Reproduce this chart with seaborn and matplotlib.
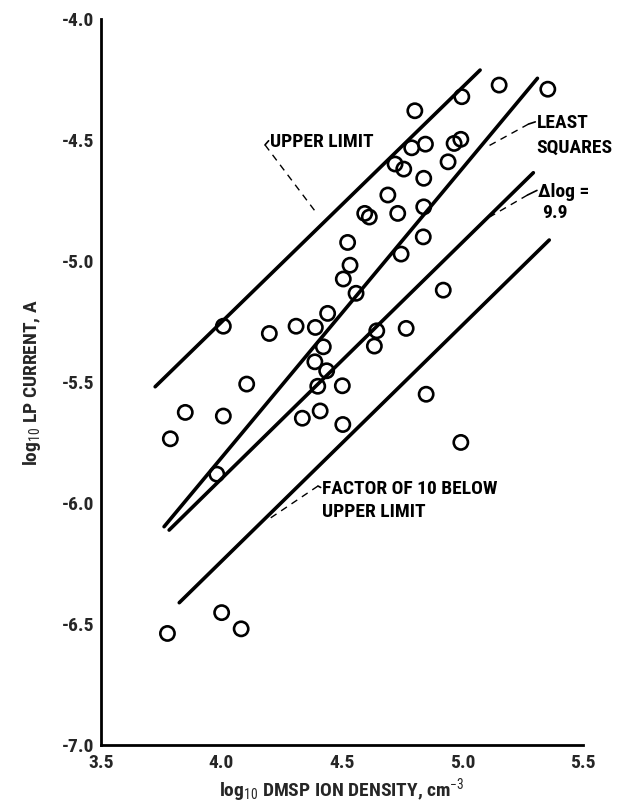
import numpy as np
import pandas as pd
import seaborn as sns
import matplotlib.pyplot as plt
from matplotlib import font_manager

# log10 DMSP ion density / log10 LP current
ion_density = [5.355, 5.153, 4.998, 4.803, 4.790, 4.847, 4.966, 4.994, 4.941, 4.721,
               4.757, 4.840, 4.691, 4.595, 4.614, 4.732, 4.840, 4.524, 4.838, 4.746,
               4.534, 4.506, 4.559, 4.441, 4.008, 4.199, 4.310, 4.390, 4.423, 4.645,
               4.635, 4.767, 4.388, 4.437, 4.105, 4.400, 4.502, 4.921, 3.850, 4.008,
               4.336, 4.410, 4.504, 4.850, 4.994, 3.788, 3.981, 3.776, 4.001, 4.082]
lp_current = [-4.290, -4.273, -4.321, -4.379, -4.532, -4.517, -4.514, -4.497, -4.590, -4.599,
              -4.620, -4.658, -4.727, -4.803, -4.818, -4.803, -4.776, -4.923, -4.900, -4.971,
              -5.017, -5.074, -5.133, -5.216, -5.269, -5.299, -5.269, -5.274, -5.354, -5.288,
              -5.351, -5.278, -5.416, -5.453, -5.508, -5.517, -5.515, -5.120, -5.625, -5.640,
              -5.649, -5.619, -5.675, -5.550, -5.749, -5.734, -5.880, -6.538, -6.452, -6.519]

# end points of the four straight lines
upper_x, upper_y = [3.725, 5.074], [-5.519, -4.211]
lsq_x, lsq_y = [3.762, 5.312], [-6.097, -4.245]
dlog_x, dlog_y = [3.783, 5.295], [-6.111, -4.635]
f10_x, f10_y = [3.825, 5.361], [-6.411, -4.913]

x_ticks = [3.5, 4.0, 4.5, 5.0, 5.5]
x_tick_labels = ["3.5", "4.0", "4.5", "5.0", "5.5"]
y_ticks = [-4.0, -4.5, -5.0, -5.5, -6.0, -6.5, -7.0]
y_tick_labels = ["-4.0", "-4.5", "-5.0", "-5.5", "-6.0", "-6.5", "-7.0"]

sns.set_style("white")

# pick a narrow face if there is one, the original lettering is condensed
available = {f.name for f in font_manager.fontManager.ttflist}
font = "DejaVu Sans"
fs = 11
for name in ["Liberation Sans Narrow", "DejaVu Sans Condensed", "Roboto Condensed"]:
    if name in available:
        font = name
        fs = 14
        break
plt.rcParams["font.family"] = [font, "DejaVu Sans"]
plt.rcParams["mathtext.fontset"] = "custom"
plt.rcParams["mathtext.rm"] = font
plt.rcParams["mathtext.it"] = font
plt.rcParams["mathtext.bf"] = font + ":bold"

fig = plt.figure(figsize=(6.31, 8.08), dpi=100)
ax = fig.add_axes([0.160, 0.0776, 0.7635, 0.8989])

for lx, ly in [(upper_x, upper_y), (lsq_x, lsq_y), (dlog_x, dlog_y), (f10_x, f10_y)]:
    sns.lineplot(x=lx, y=ly, ax=ax, color="black", linewidth=2.6)

df = pd.DataFrame({"density": ion_density, "current": lp_current})
sns.scatterplot(data=df, x="density", y="current", ax=ax, marker="o", s=105,
                facecolors="none", edgecolors="black", linewidth=1.9, zorder=3)

ax.set_xlim(3.5, 5.5)
ax.set_ylim(-7.0, -4.0)
ax.set_xticks(x_ticks)
ax.set_xticklabels(x_tick_labels, fontsize=fs, fontweight="bold")
ax.set_yticks(y_ticks)
ax.set_yticklabels(y_tick_labels, fontsize=fs, fontweight="bold")
ax.tick_params(axis="x", direction="in", length=16, width=2, pad=6, color="black")
ax.tick_params(axis="y", direction="in", length=14, width=2, pad=5, color="black")
for side in ["top", "right"]:
    ax.spines[side].set_visible(False)
for side in ["left", "bottom"]:
    ax.spines[side].set_linewidth(2)
    ax.spines[side].set_color("black")

ax.set_xlabel(r"log$_{10}$ DMSP ION DENSITY, cm$^{-3}$", fontsize=fs, fontweight="bold", labelpad=3)
ax.set_ylabel(r"log$_{10}$ LP CURRENT, A", fontsize=fs, fontweight="bold", labelpad=13)

# labels and their dashed leaders
tkw = dict(fontsize=fs, fontweight="bold", ha="left", va="center", color="black")
dash = dict(color="black", linewidth=1.0, linestyle=(0, (5, 4)))
solid = dict(color="black", linewidth=1.2)

ax.text(4.202, -4.507, "UPPER LIMIT", **tkw)
ax.plot([4.196, 4.181], [-4.503, -4.520], **solid)
ax.plot([4.181, 4.396], [-4.520, -4.803], **dash)

ax.text(5.309, -4.431, "LEAST", **tkw)
ax.text(5.309, -4.530, "SQUARES", **tkw)
ax.plot([5.303, 5.275], [-4.425, -4.434], **solid)
ax.plot([5.275, 5.099], [-4.434, -4.530], **dash)

ax.text(5.316, -4.713, "\u0394log =", **tkw)
ax.text(5.330, -4.803, "9.9", **tkw)
ax.plot([5.310, 5.271], [-4.708, -4.727], **solid)
ax.plot([5.271, 5.115], [-4.727, -4.817], **dash)

ax.text(4.418, -5.941, "FACTOR OF 10 BELOW", **tkw)
ax.text(4.418, -6.038, "UPPER LIMIT", **tkw)
ax.plot([4.412, 4.401], [-5.935, -5.929], **solid)
ax.plot([4.401, 4.192], [-5.929, -6.069], **dash)

fig.savefig("out.png", dpi=100)
